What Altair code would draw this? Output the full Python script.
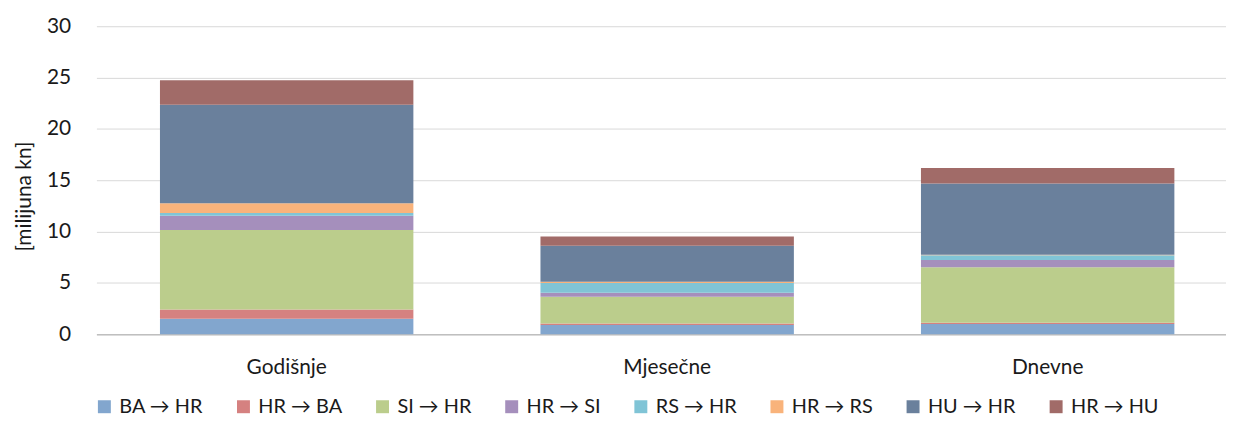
import altair as alt
import pandas as pd

categories = ["Godišnje", "Mjesečne", "Dnevne"]
series = ["BA → HR", "HR → BA", "SI → HR", "HR → SI", "RS → HR", "HR → RS", "HU → HR", "HR → HU"]
colors = ["#82A6CE", "#D58180", "#BBCD8C", "#A58FBC", "#80C4D6", "#F9B37B", "#6A809C", "#A16B68"]

values = {
    "BA → HR": [1.5, 0.9, 1.0],
    "HR → BA": [0.9, 0.15, 0.12],
    "SI → HR": [7.75, 2.6, 5.4],
    "HR → SI": [1.4, 0.4, 0.72],
    "RS → HR": [0.25, 0.95, 0.45],
    "HR → RS": [0.95, 0.12, 0.05],
    "HU → HR": [9.6, 3.5, 6.95],
    "HR → HU": [2.4, 0.9, 1.5],
}

rows = []
for si, s in enumerate(series):
    for ci, c in enumerate(categories):
        rows.append({"kat": c, "serija": s, "ord": si, "v": values[s][ci]})
df = pd.DataFrame(rows)

FONT = "Lato"
FS = 21

chart = alt.Chart(df).mark_bar().encode(
    x=alt.X("kat:N", sort=categories, title=None,
            scale=alt.Scale(paddingInner=0.334, paddingOuter=0.167, range=[0, 1149]),
            axis=alt.Axis(labelAngle=0, labelFontSize=FS, labelPadding=23, ticks=False,
                          domainColor="#bfbfbf", domainWidth=1.5, labelColor="#1a1a1a",
                          labelFont=FONT)),
    y=alt.Y("v:Q", stack="zero", title="[milijuna kn]",
            scale=alt.Scale(domain=[0, 30], nice=False),
            axis=alt.Axis(values=[0, 5, 10, 15, 20, 25, 30], labelFontSize=FS, labelPadding=26,
                          ticks=False, domain=False, gridColor="#d9d9d9", labelColor="#1a1a1a",
                          titleFontSize=FS, titleFontWeight="normal", titleColor="#1a1a1a",
                          titlePadding=12, labelFont=FONT, titleFont=FONT, titleY=171)),
    color=alt.Color("serija:N", sort=series,
                    scale=alt.Scale(domain=series, range=colors),
                    legend=alt.Legend(orient="none", direction="horizontal", title=None,
                                      legendX=-2, legendY=373, symbolType="square",
                                      symbolSize=170, symbolStrokeWidth=0, labelFontSize=20,
                                      labelFont=FONT, labelColor="#1a1a1a", columnPadding=30,
                                      labelOffset=5, columns=8)),
    order=alt.Order("ord:Q", sort="ascending"),
).properties(
    width=1137, height=310,
    autosize=alt.AutoSizeParams(type="none"),
    padding={"left": 89, "top": 17, "right": 0, "bottom": 84},
).configure_view(stroke=None).configure_axis(grid=True).configure_axisX(grid=False)

chart.save("out.html", embed_options={"renderer": "svg", "actions": False})
